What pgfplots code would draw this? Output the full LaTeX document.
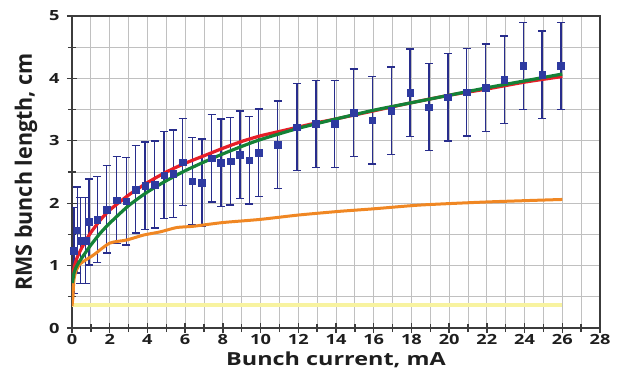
\documentclass[border=0pt]{standalone}
\usepackage{graphicx}
\usepackage{fontspec}
\setmainfont{Open Sans}
\newfontfamily\hfont{Open Sans}[FakeStretch=1.3]
\newfontfamily\vfont{Open Sans}
\usepackage{pgfplots}
\usepackage{pgfplotstable}
\pgfplotsset{compat=1.18}
\definecolor{markblue}{RGB}{46,58,160}
\definecolor{errblue}{RGB}{40,45,140}
\definecolor{cred}{RGB}{230,30,40}
\definecolor{cgreen}{RGB}{20,130,55}
\definecolor{corange}{RGB}{240,135,35}
\definecolor{cyellow}{RGB}{248,243,160}
\definecolor{gridgray}{RGB}{192,192,192}
\definecolor{axisgray}{RGB}{60,60,60}
\definecolor{txt}{RGB}{30,30,30}

\pgfplotstableread{
x y e
0.10 1.24 0.69
0.28 1.57 0.69
0.45 1.40 0.69
0.72 1.40 0.69
0.90 1.70 0.69
1.34 1.74 0.69
1.84 1.90 0.70
2.37 2.05 0.70
2.88 2.03 0.70
3.38 2.22 0.70
3.88 2.28 0.70
4.38 2.30 0.70
4.88 2.45 0.70
5.37 2.47 0.70
5.87 2.66 0.70
6.38 2.35 0.70
6.89 2.33 0.70
7.40 2.72 0.70
7.90 2.65 0.70
8.40 2.67 0.70
8.90 2.78 0.70
9.40 2.69 0.70
9.90 2.81 0.70
10.90 2.94 0.70
11.93 3.22 0.70
12.93 3.27 0.70
13.93 3.27 0.70
14.93 3.45 0.70
15.93 3.33 0.70
16.93 3.48 0.70
17.93 3.77 0.70
18.93 3.54 0.70
19.93 3.70 0.70
20.93 3.78 0.70
21.93 3.85 0.70
22.93 3.98 0.70
23.93 4.20 0.70
24.93 4.06 0.70
25.93 4.20 0.70
}\meas

\pgfplotstableread{
x y
0.02 0.80
0.12 0.98
0.30 1.15
0.65 1.36
1.00 1.53
1.50 1.73
2.00 1.89
3.00 2.13
4.00 2.33
5.00 2.50
6.00 2.64
7.00 2.76
8.00 2.88
9.00 2.99
10.00 3.08
11.00 3.15
12.00 3.22
13.00 3.29
14.00 3.35
16.00 3.48
18.00 3.61
20.00 3.73
22.00 3.83
24.00 3.94
26.00 4.03
}\redc

\pgfplotstableread{
x y
0.02 0.72
0.12 0.90
0.30 1.02
0.65 1.18
1.00 1.33
1.50 1.52
2.00 1.68
3.00 1.96
4.00 2.18
5.00 2.36
6.00 2.52
7.00 2.66
8.00 2.79
9.00 2.91
10.00 3.02
12.00 3.20
14.00 3.35
16.00 3.49
18.00 3.61
20.00 3.73
22.00 3.85
24.00 3.96
26.00 4.07
}\greenc

\pgfplotstableread{
x y
0.00 0.35
0.05 0.50
0.10 0.77
0.20 0.90
0.44 1.03
1.14 1.17
2.00 1.36
2.90 1.41
3.80 1.49
4.67 1.54
5.55 1.61
6.43 1.63
8.00 1.69
9.97 1.74
12.00 1.81
14.20 1.87
16.00 1.91
18.45 1.97
22.00 2.02
26.00 2.06
}\orangec

\pgfplotstableread{
x y
0 0.37
26 0.37
}\yellowc

\begin{document}
\begin{tikzpicture}
\begin{axis}[
  scale only axis, width=528pt, height=312pt,
  xmin=0, xmax=28, ymin=0, ymax=5,
  xtick={0,2,...,28}, minor xtick={1,3,...,27},
  ytick={0,1,...,5}, minor ytick={0.5,1.5,...,4.5},
  grid=both,
  major grid style={line width=1pt, color=gridgray},
  minor grid style={line width=1pt, color=gridgray},
  axis line style={line width=1.3pt, color=axisgray},
  tick style={line width=1.3pt, color=axisgray},
  tick align=center, major tick length=10pt, minor tick length=8pt,
  tick pos=left,
  /pgf/number format/assume math mode=true,
  ticklabel style={font=\hfont\bfseries\fontsize{14}{14}\selectfont, text=txt},
  xticklabel style={yshift=0pt, inner sep=1pt},
  yticklabel style={xshift=-4pt},
  xlabel={\hfont\bfseries\fontsize{18}{18}\selectfont Bunch current, mA},
  ylabel={\scalebox{1}[1.05]{\vfont\bfseries\fontsize{21.5}{21.5}\selectfont RMS bunch length, cm}},
  xlabel style={text=txt, at={(axis description cs:0.5,-0.1186)}, anchor=base, inner sep=1pt},
  ylabel style={text=txt, at={(axis description cs:-0.0758,0.5)}, anchor=base, rotate=0},
  clip=true,
]
\addplot[cyellow, line width=4pt] table[x=x,y=y] {\yellowc};
\addplot[only marks, mark=square*, mark size=3.3pt, mark options={fill=markblue, draw=markblue},
  error bars/.cd, y dir=both, y explicit,
  error bar style={line width=1.4pt, color=errblue},
  error mark options={rotate=90, line width=1.4pt, color=errblue, mark size=4pt}]
  table[x=x, y=y, y error=e] {\meas};
\addplot[corange, line width=3pt, smooth, tension=0.4] table[x=x,y=y] {\orangec};
\addplot[cred, line width=3.2pt, smooth, tension=0.4] table[x=x,y=y] {\redc};
\addplot[cgreen, line width=3.2pt, smooth, tension=0.4] table[x=x,y=y] {\greenc};
\end{axis}
\pgfresetboundingbox
\path[use as bounding box] ([xshift=-72pt,yshift=-52pt]current axis.south west) rectangle ([xshift=21pt,yshift=16pt]current axis.north east);
\end{tikzpicture}
\end{document}
